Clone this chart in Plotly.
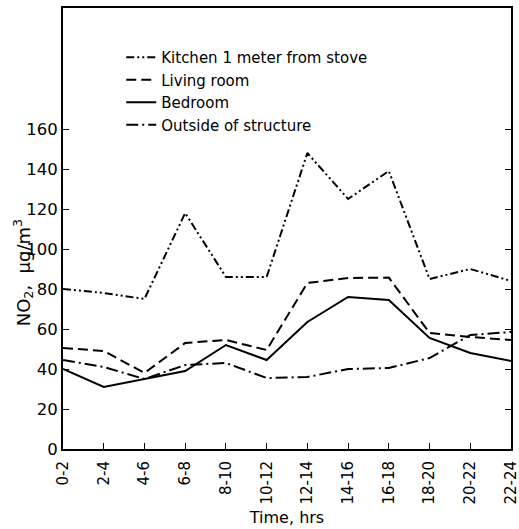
import plotly.graph_objects as go

times = ["0-2", "2-4", "4-6", "6-8", "8-10", "10-12", "12-14", "14-16", "16-18", "18-20", "20-22", "22-24"]
kitchen = [80, 78, 75, 118, 86, 86, 148, 125, 139, 85, 90, 84]
living = [50.5, 49, 38, 53, 54.5, 49.5, 83, 85.5, 85.7, 58, 56, 54.5]
bedroom = [40, 31, 35, 39, 52, 44.5, 63.5, 76, 74.5, 55.5, 48, 44]
outside = [44.5, 41, 35, 42, 43, 35.5, 36, 40, 40.5, 45.5, 57, 58.5]
yticks = [0, 20, 40, 60, 80, 100, 120, 140, 160]

series = [
    ("Kitchen 1 meter from stove", kitchen, "8px,3px,2px,3px,2px,3px"),
    ("Living room", living, "10px,5px"),
    ("Bedroom", bedroom, "solid"),
    ("Outside of structure", outside, "12px,4px,2px,4px"),
]

fig = go.Figure()
for name, vals, dash in series:
    fig.add_trace(go.Scatter(x=times, y=vals, mode="lines", name=name,
                             line=dict(color="black", width=2, dash=dash)))

font = "DejaVu Sans, sans-serif"
fig.update_layout(
    width=519, height=529,
    margin=dict(l=63, r=8, t=8, b=80),
    paper_bgcolor="white", plot_bgcolor="white",
    font=dict(family=font, size=16, color="black"),
    showlegend=True,
    legend=dict(x=0.13, y=0.925, xanchor="left", yanchor="top",
                bgcolor="rgba(0,0,0,0)", font=dict(size=15),
                tracegroupgap=0),
    xaxis=dict(
        type="category", range=[0, 11], automargin=False,
        showline=True, linecolor="black", linewidth=2, mirror=True,
        ticks="inside", ticklen=6, tickcolor="black", tickangle=-90,
        tickfont=dict(size=15), ticklabelstandoff=4,
        showgrid=False, zeroline=False,
        title=dict(text="Time, hrs", font=dict(size=16), standoff=8),
    ),
    yaxis=dict(
        range=[0, 220.5], tickvals=yticks, automargin=False,
        showline=True, linecolor="black", linewidth=2,
        mirror="ticks", ticks="inside", ticklen=6, tickcolor="black",
        tickfont=dict(size=16.5),
        showgrid=False, zeroline=False,
    ),
    annotations=[dict(
        text="NO<sub>2</sub>,\u00a0\u00a0\u03bcg/m<sup>3</sup>", textangle=-90,
        xref="paper", yref="paper", x=-0.09, y=0.40,
        xanchor="center", yanchor="middle", showarrow=False,
        font=dict(size=18),
    )],
)

fig.write_html("out.html", config={"displayModeBar": False},
               post_script="document.body.style.margin='0px';")
